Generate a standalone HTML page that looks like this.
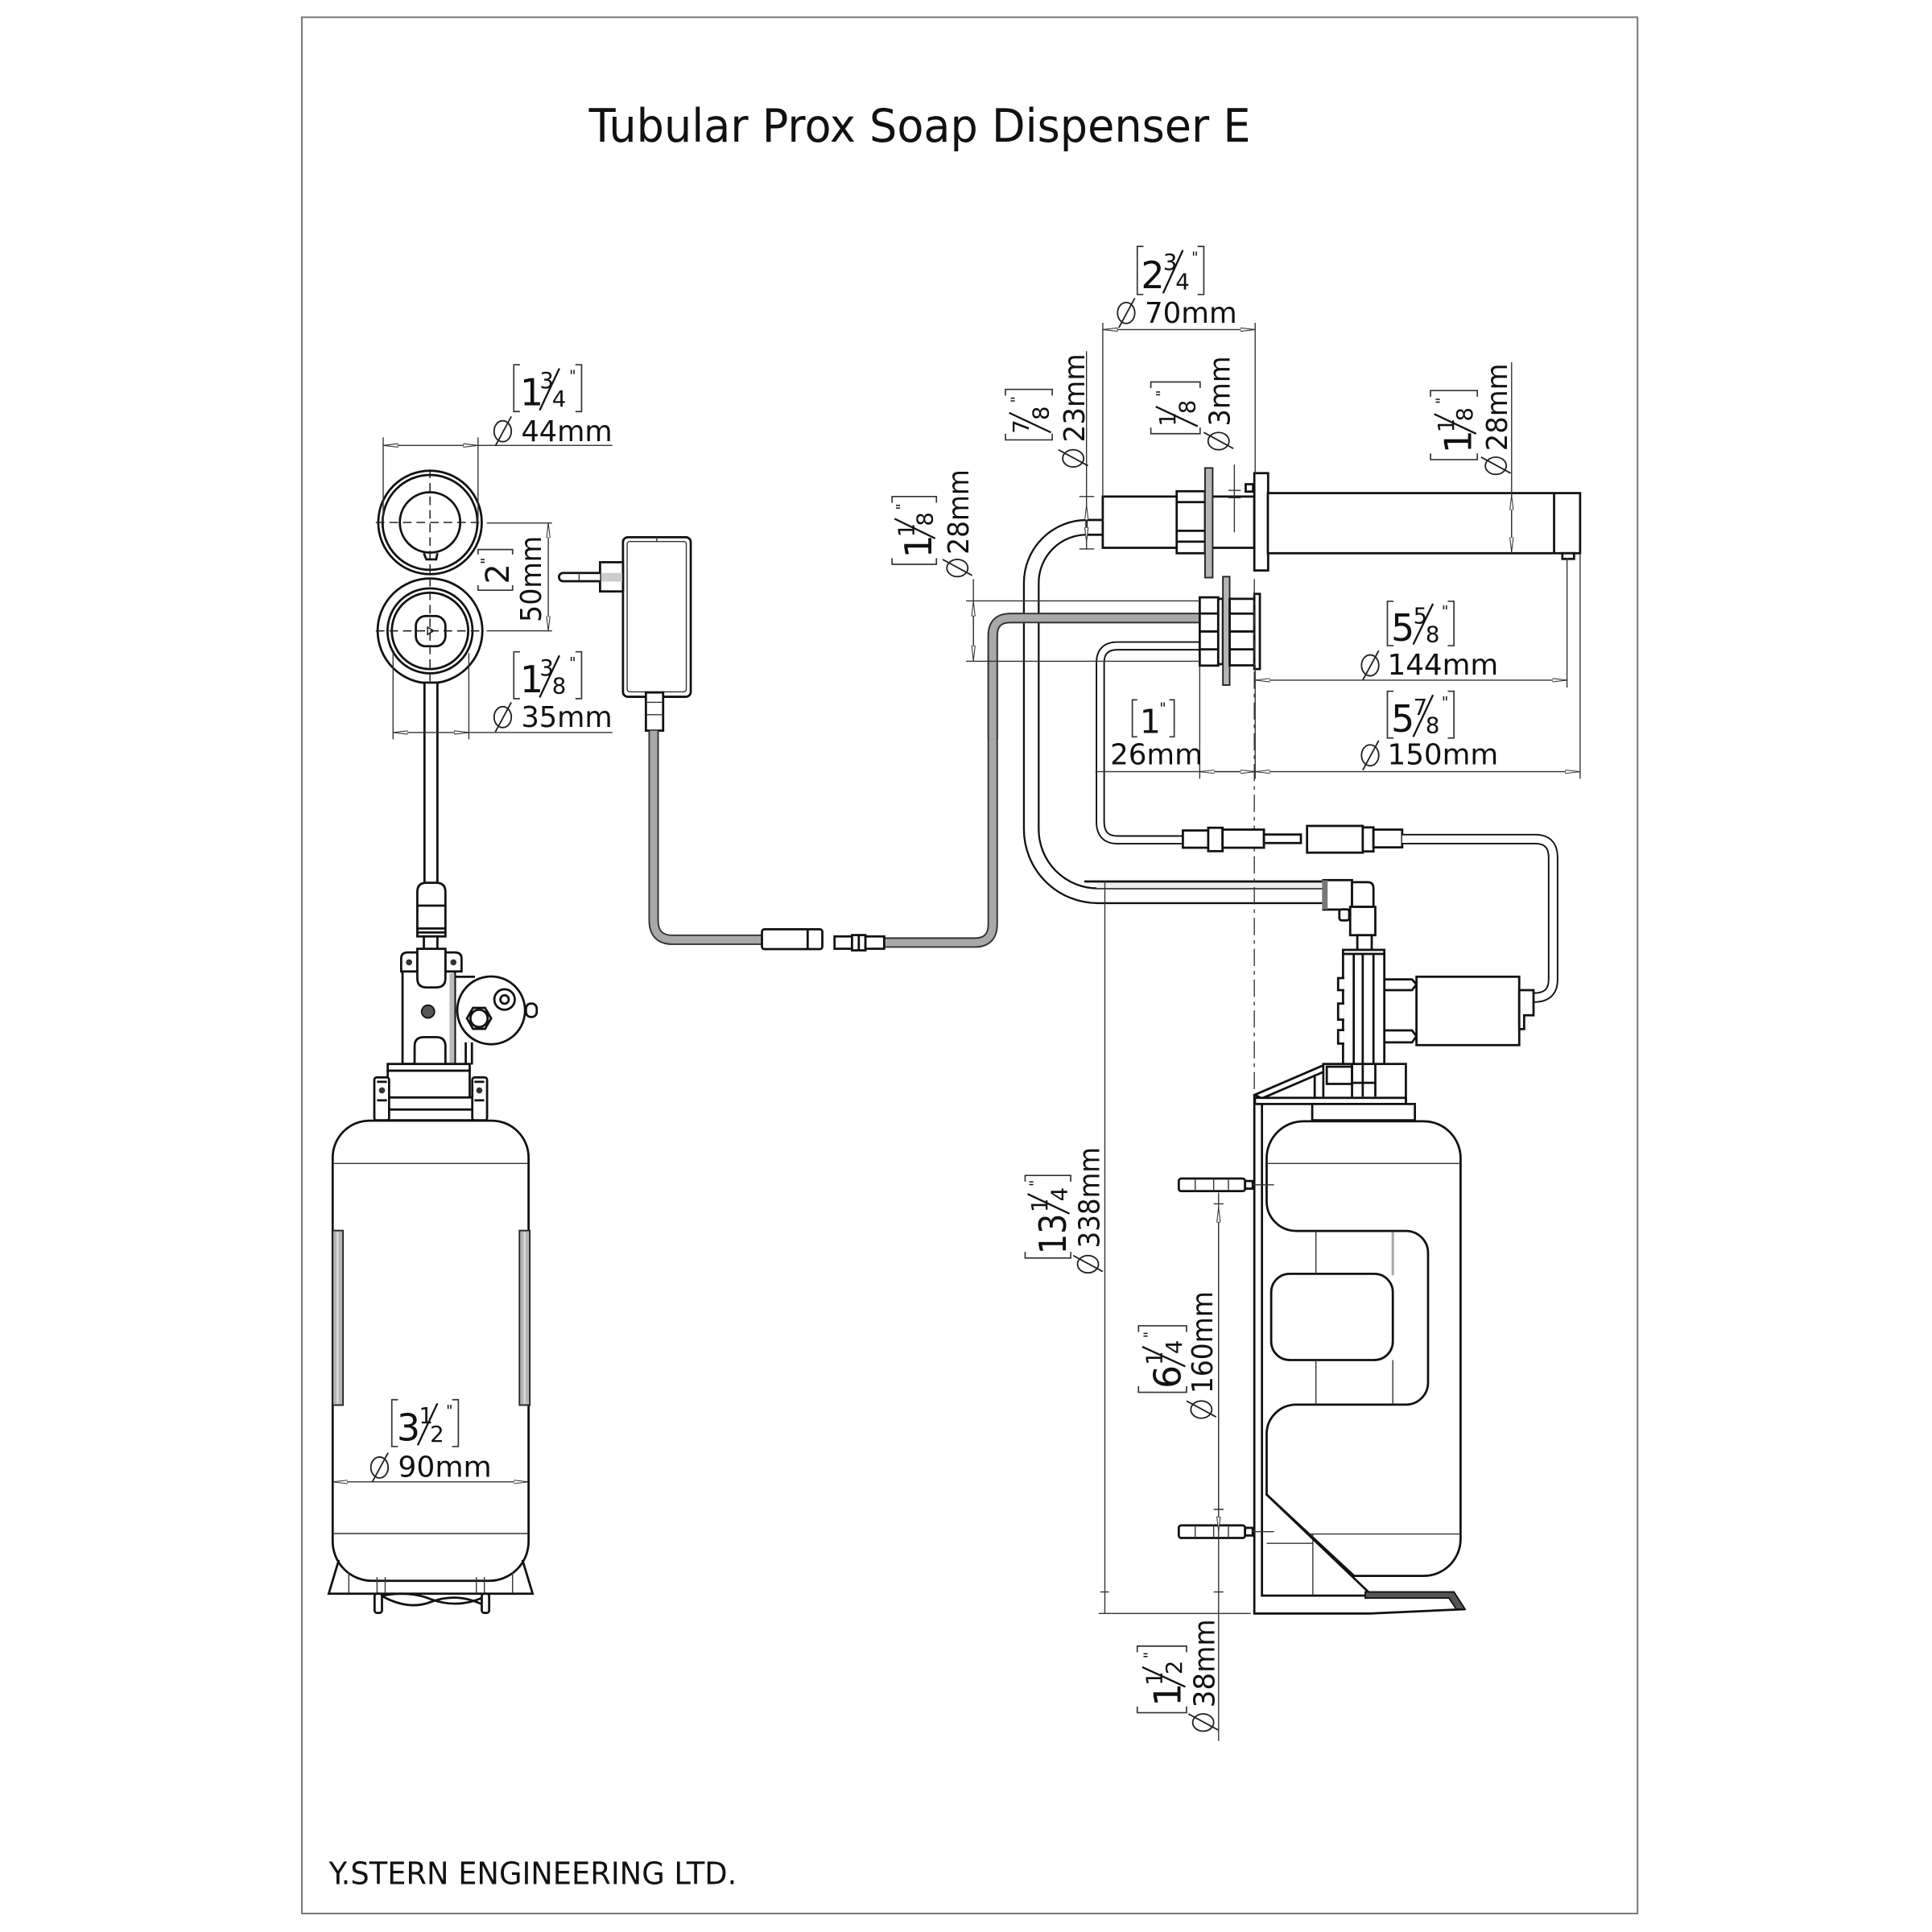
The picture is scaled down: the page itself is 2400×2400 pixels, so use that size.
<!DOCTYPE html>
<html><head><meta charset="utf-8"><style>
html,body{margin:0;padding:0;background:#fff;}
svg{display:block;}
text{font-family:"DejaVu Sans","Liberation Sans",sans-serif;fill:#111;}
.o{fill:none;stroke:#111;stroke-width:1.8}
.w{fill:#fff;stroke:#111;stroke-width:1.8}
.t{fill:none;stroke:#333;stroke-width:0.9}
.b{fill:none;stroke:#333;stroke-width:1.1}
.g{fill:#b5b5b5;stroke:#222;stroke-width:1.2}
.cl{fill:none;stroke:#333;stroke-width:0.9;stroke-dasharray:14 4 3 4}
.dsh{fill:none;stroke:#222;stroke-width:1;stroke-dasharray:7 4}
.dia{fill:none;stroke:#222;stroke-width:1.2}
.wn{font-size:30px}
.fr{font-size:18px}
.mk{font-size:12px}
.dt{font-size:23px}
</style></head><body>
<svg width="2400" height="2400" viewBox="0 0 1568 1568" xmlns="http://www.w3.org/2000/svg">
<defs>
<marker id="ar" viewBox="0 0 12 4" refX="12" refY="2" markerWidth="12" markerHeight="4" orient="auto-start-reverse" markerUnits="userSpaceOnUse"><path d="M12 2 L0 0.6 L0 3.4 z" fill="#fff" stroke="#333" stroke-width="0.7"/></marker>
</defs>
<rect width="1568" height="1568" fill="#fff"/>
<rect x="245" y="14" width="1084" height="1539" fill="none" stroke="#777" stroke-width="1.3"/>
<text x="478" y="115" font-size="37" textLength="537" lengthAdjust="spacingAndGlyphs">Tubular Prox Soap Dispenser E</text>
<text x="267" y="1529" font-size="25" textLength="331" lengthAdjust="spacingAndGlyphs">Y.STERN ENGINEERING LTD.</text>

<!-- ============ LEFT TOP: circles ============ -->
<g>
<circle class="o" cx="349" cy="424" r="42"/>
<circle class="o" cx="349" cy="424" r="38.5" stroke-width="1.4"/>
<circle class="o" cx="349" cy="424" r="24.5" stroke-width="2.6"/>
<path class="o" d="M344 449 L346 454 H354 L355 449" stroke-width="1.3"/>
<line class="dsh" x1="305" y1="424" x2="393" y2="424"/>
<line class="dsh" x1="349" y1="381" x2="349" y2="467"/>

<circle class="o" cx="349" cy="512" r="42.5"/>
<circle class="o" cx="349" cy="512" r="34.5" stroke-width="1.4"/>
<circle class="o" cx="349" cy="512" r="31" stroke-width="1.4"/>
<rect class="o" x="337.5" y="500" width="24" height="24.5" rx="8" stroke-width="2"/>
<path d="M347 509 L352 512 L347 515 z" fill="none" stroke="#222" stroke-width="1"/>
<line class="dsh" x1="305" y1="512" x2="393" y2="512"/>
<line class="dsh" x1="349" y1="469" x2="349" y2="555"/>
</g>
<!-- tube down -->
<rect class="w" x="344.5" y="554" width="10.5" height="163" stroke-width="1.5"/>

<!-- 44mm dim -->
<line class="t" x1="311" y1="355" x2="311" y2="424"/>
<line class="t" x1="388" y1="355" x2="388" y2="424"/>
<line class="t" x1="311" y1="361.5" x2="388" y2="361.5" marker-start="url(#ar)" marker-end="url(#ar)"/>
<line class="t" x1="388" y1="361.5" x2="497" y2="361.5"/>
<g transform="translate(417,296)">
<path class="b" d="M5 0H0V38H5 M50 0H55V38H50"/>
<text class="wn" x="5" y="33">1</text><text class="fr" x="21" y="19">3</text>
<line x1="21" y1="37" x2="37" y2="3" stroke="#111" stroke-width="1.5"/>
<text class="fr" x="31" y="34">4</text><text class="mk" x="45" y="13">"</text>
</g>
<g class="dia" transform="translate(408,350)"><ellipse rx="7" ry="8.5"/><line x1="-6" y1="12" x2="7" y2="-12"/></g>
<text class="dt" x="423" y="358" textLength="74" lengthAdjust="spacingAndGlyphs">44mm</text>

<!-- 50mm dim -->
<line class="t" x1="395" y1="424.5" x2="448" y2="424.5"/>
<line class="t" x1="395" y1="512" x2="448" y2="512"/>
<line class="t" x1="445" y1="424.5" x2="445" y2="512" marker-start="url(#ar)" marker-end="url(#ar)"/>
<g transform="translate(439,505) rotate(-90)"><text class="dt" x="0" y="0" font-size="22" textLength="70" lengthAdjust="spacingAndGlyphs">50mm</text></g>
<g transform="translate(388,479) rotate(-90)">
<path class="b" d="M4 0H0V28H4 M29 0H33V28H29"/>
<text x="5" y="25" font-size="26">2</text><text class="mk" x="21" y="11">"</text>
</g>

<!-- 35mm dim -->
<line class="t" x1="319" y1="530" x2="319" y2="600"/>
<line class="t" x1="380.5" y1="530" x2="380.5" y2="600"/>
<line class="t" x1="319" y1="594.5" x2="380.5" y2="594.5" marker-start="url(#ar)" marker-end="url(#ar)"/>
<line class="t" x1="380.5" y1="594.5" x2="497" y2="594.5"/>
<g transform="translate(417,529)">
<path class="b" d="M5 0H0V38H5 M50 0H55V38H50"/>
<text class="wn" x="5" y="33">1</text><text class="fr" x="21" y="19">3</text>
<line x1="21" y1="37" x2="37" y2="3" stroke="#111" stroke-width="1.5"/>
<text class="fr" x="31" y="34">8</text><text class="mk" x="45" y="13">"</text>
</g>
<g class="dia" transform="translate(408,582)"><ellipse rx="7" ry="8.5"/><line x1="-6" y1="12" x2="7" y2="-12"/></g>
<text class="dt" x="423" y="590" textLength="74" lengthAdjust="spacingAndGlyphs">35mm</text>

<!-- ============ ADAPTER ============ -->
<rect class="w" x="505.6" y="436" width="55" height="129.5" rx="4"/>
<rect class="t" x="509" y="439.5" width="48" height="122" rx="2"/>
<line class="t" x1="533" y1="436" x2="533" y2="440"/>
<rect class="w" x="487" y="456.3" width="18.6" height="23.7" stroke-width="1.5"/>
<rect x="488" y="465" width="17" height="7" fill="#ccc"/>
<path class="w" d="M487 465 H457 A3.3 3.3 0 0 0 457 471.7 H487" stroke-width="1.3"/>
<line class="t" x1="470" y1="465" x2="470" y2="471.7"/>
<rect class="w" x="524.2" y="562" width="14" height="31" stroke-width="1.4"/>
<line class="t" x1="524.2" y1="570" x2="538.2" y2="570"/>
<line class="t" x1="524.2" y1="580" x2="538.2" y2="580"/>
<!-- power cable -->
<path d="M530.5 593 V747 Q530.5 762.7 546 762.7 H619" fill="none" stroke="#333" stroke-width="8.5"/>
<path d="M530.5 593 V747 Q530.5 762.7 546 762.7 H619" fill="none" stroke="#a8a8a8" stroke-width="6"/>
<path d="M717 765 H791 Q805.7 765 805.7 750 V516 Q805.7 501.6 820 501.6 H974" fill="none" stroke="#333" stroke-width="8.5"/>
<path d="M717 765 H791 Q805.7 765 805.7 750 V516 Q805.7 501.6 820 501.6 H974" fill="none" stroke="#a8a8a8" stroke-width="6"/>
<!-- connectors middle -->
<rect class="w" x="618.4" y="754.2" width="49" height="16.1" rx="2" stroke-width="2.2"/>
<line class="o" x1="655.5" y1="754.2" x2="655.5" y2="770.3" stroke-width="1.4"/>
<rect class="w" x="677.3" y="760" width="14.2" height="10" stroke-width="1.6"/>
<rect class="w" x="691.5" y="758.9" width="10.9" height="12.4" stroke-width="1.6"/>
<line class="o" x1="697" y1="758.9" x2="697" y2="771.3" stroke-width="1.2"/>
<rect class="w" x="702.4" y="760" width="15.2" height="10" stroke-width="1.6"/>

<!-- ============ LEFT BOTTLE ASSEMBLY ============ -->
<path class="w" d="M338.7 760 V724 Q338.7 716.5 346 716.5 H354 Q361.5 716.5 361.5 724 V760 Z"/>
<line class="o" x1="338.7" y1="735" x2="361.5" y2="735" stroke-width="1.3"/>
<line class="o" x1="338.7" y1="753.5" x2="361.5" y2="753.5" stroke-width="1.3"/>
<line class="o" x1="338.7" y1="756.8" x2="361.5" y2="756.8" stroke-width="1"/>
<rect class="w" x="344" y="760" width="11" height="11" stroke-width="1.4"/>
<rect class="w" x="326.7" y="788.4" width="42.5" height="75.1"/>
<rect x="364.8" y="790" width="4" height="73" fill="#bbb"/>
<path class="w" d="M325.6 788.4 V778 Q325.6 773 331 773 H338.7 V788.4 Z" stroke-width="1.5"/>
<path class="w" d="M361.5 773 H369 Q374.6 773 374.6 778 V788.4 H361.5 Z" stroke-width="1.5"/>
<circle cx="332" cy="781" r="2.5" fill="#333"/><circle cx="368" cy="781" r="2.5" fill="#333"/>
<path class="w" d="M338.7 770 V794 Q338.7 801.4 346 801.4 H354 Q361.5 801.4 361.5 794 V770 Z"/>
<path class="w" d="M336.5 863.5 V849 Q336.5 841.7 344 841.7 H354 Q361.5 841.7 361.5 849 V863.5"/>
<circle cx="347.4" cy="821" r="5.2" fill="#555" stroke="#111" stroke-width="1.2"/>
<path class="o" d="M369 792.7 H385.5 M378 846 V864" stroke-width="1.4"/>
<path class="o" d="M383 846 V864" stroke-width="1.4"/>
<rect class="w" x="426.9" y="814.5" width="8.7" height="10.9" rx="4" stroke-width="1.4"/>
<circle class="w" cx="398.6" cy="820" r="27.5" stroke-width="2.2"/>
<polygon class="o" points="398.6,826.5 393.7,835 383.9,835 379,826.5 383.9,818 393.7,818" stroke-width="1.6"/>
<circle class="o" cx="388.8" cy="826.5" r="7" stroke-width="1"/>
<circle class="o" cx="409.5" cy="811.2" r="8.3" stroke-width="1.8"/>
<circle class="o" cx="409.5" cy="811.2" r="3.4" stroke-width="1.6"/>
<rect class="w" x="314.7" y="863.5" width="66.5" height="5.5" stroke-width="1.5"/>
<rect class="w" x="314.7" y="869" width="66.5" height="21.7" stroke-width="1.5"/>
<rect class="w" x="314.7" y="890.7" width="70.8" height="9.8" stroke-width="1.5"/>
<rect class="w" x="307.1" y="900.5" width="86" height="8.7" stroke-width="1.5"/>
<rect class="w" x="303.8" y="874.4" width="12" height="34.8" rx="2" stroke-width="1.5"/>
<rect class="w" x="383.3" y="874.4" width="12" height="34.8" rx="2" stroke-width="1.5"/>
<path class="o" d="M306 878 H314 M306 893 H314 M385 878 H393 M385 893 H393" stroke-width="1"/>
<circle cx="310" cy="885" r="2.5" fill="#333"/><circle cx="389" cy="885" r="2.5" fill="#333"/>
<path class="w" d="M300 909.5 H399 A30 30 0 0 1 429 939.5 V1251 A32 32 0 0 1 397 1283 H302 A32 32 0 0 1 270 1251 V939.5 A30 30 0 0 1 300 909.5 Z"/>
<line class="t" x1="270" y1="944.3" x2="429" y2="944.3"/>
<line class="t" x1="270" y1="1244.6" x2="429" y2="1244.6"/>
<rect class="g" x="270" y="998.7" width="8.4" height="141.7"/>
<rect class="g" x="421.6" y="998.7" width="8.4" height="141.7"/>
<path d="M274 1000 V1139 M425.8 1000 V1139" stroke="#ddd" stroke-width="1.5"/>
<path class="o" d="M275 1266 L266.8 1293.4 H432.3 L424 1266"/>
<path class="t" d="M283.1 1276 V1293 M306 1280 V1293 M312.6 1280 V1293 M386.6 1280 V1293 M393.1 1280 V1293 M416 1276 V1293"/>
<path class="o" d="M306 1293 Q330 1308 350 1300 Q372 1292 393 1303" stroke-width="1.3"/>
<path class="o" d="M306 1296 Q330 1290 350 1298 Q372 1306 393 1296" stroke-width="1.1"/>
<rect class="w" x="304" y="1293.4" width="6" height="15.6" rx="2" stroke-width="1.3"/>
<rect class="w" x="391" y="1293.4" width="6" height="15.6" rx="2" stroke-width="1.3"/>
<line class="t" x1="270" y1="1202.7" x2="429" y2="1202.7" marker-start="url(#ar)" marker-end="url(#ar)"/>
<g transform="translate(318,1136)">
<path class="b" d="M5 0H0V38H5 M49 0H54V38H49"/>
<text class="wn" x="4" y="33">3</text><text class="fr" x="22" y="19">1</text>
<line x1="21" y1="37" x2="37" y2="3" stroke="#111" stroke-width="1.5"/>
<text class="fr" x="31" y="34">2</text><text class="mk" x="44" y="13">"</text>
</g>
<g class="dia" transform="translate(308,1191)"><ellipse rx="7" ry="8.5"/><line x1="-6" y1="12" x2="7" y2="-12"/></g>
<text class="dt" x="323" y="1198.5" textLength="76" lengthAdjust="spacingAndGlyphs">90mm</text>

<!-- ============ RIGHT: SPOUT ============ -->
<path d="M882 428 A45 45 0 0 0 837 473 V673 A54 54 0 0 0 891 727 H1074" fill="none" stroke="#111" stroke-width="13.5"/>
<path d="M882 428 A45 45 0 0 0 837 473 V673 A54 54 0 0 0 891 727 H1074" fill="none" stroke="#fff" stroke-width="10.5"/>
<rect x="890" y="715.4" width="184" height="5.4" fill="#eee"/>
<line class="o" x1="880" y1="715.4" x2="1074" y2="715.4" stroke-width="1.3"/>
<path d="M974 524.2 H907 Q893 524.2 893 538 V667 Q893 681.6 907 681.6 H961" fill="none" stroke="#111" stroke-width="7.5"/>
<path d="M974 524.2 H907 Q893 524.2 893 538 V667 Q893 681.6 907 681.6 H961" fill="none" stroke="#fff" stroke-width="5"/>
<path d="M805.7 600 V516 Q805.7 501.6 820 501.6 H974" fill="none" stroke="#333" stroke-width="8.5"/>
<path d="M805.7 600 V516 Q805.7 501.6 820 501.6 H974" fill="none" stroke="#a8a8a8" stroke-width="6"/>

<rect class="w" x="881.8" y="422" width="13.2" height="12" stroke-width="1.4"/>
<rect class="w" x="895" y="403" width="123" height="41.6"/>
<rect class="w" x="955" y="398.7" width="23" height="50.3"/>
<path class="o" d="M955 407.5 H978 M955 430.8 H978 M955 439.6 H978" stroke-width="1.3"/>
<rect class="g" x="978" y="379.8" width="6.2" height="89"/>
<rect class="w" x="1018" y="384" width="11.2" height="79"/>
<rect class="w" x="1029" y="400.2" width="253.4" height="48.8"/>
<line class="o" x1="1261.3" y1="400.2" x2="1261.3" y2="449" stroke-width="1.4"/>
<rect class="w" x="1268" y="449" width="9.5" height="4.6" stroke-width="1.2"/>
<rect class="w" x="1011" y="393" width="6" height="6" stroke-width="1"/>

<rect class="w" x="973.7" y="484.8" width="15" height="55.4" stroke-width="1.6"/>
<path class="o" d="M973.7 497.9 H988.7 M973.7 512.5 H988.7 M973.7 527 H988.7" stroke-width="1.2"/>
<rect class="w" x="988.7" y="486" width="3.8" height="53" stroke-width="1.2"/>
<rect class="g" x="992.5" y="468" width="5.5" height="88"/>
<rect class="w" x="998" y="486" width="20" height="54" stroke-width="1.6"/>
<path class="o" d="M998 498 H1018 M998 512.5 H1018 M998 527 H1018" stroke-width="1.2"/>
<rect class="w" x="1018" y="482" width="4.5" height="61" stroke-width="1.4"/>

<line class="cl" x1="1018" y1="470" x2="1018" y2="888"/>

<!-- dims top right -->
<line class="t" x1="895" y1="262" x2="895" y2="403"/>
<line class="t" x1="1018.7" y1="262" x2="1018.7" y2="384"/>
<line class="t" x1="895" y1="267.5" x2="1018.7" y2="267.5" marker-start="url(#ar)" marker-end="url(#ar)"/>
<g transform="translate(923,200)">
<path class="b" d="M5 0H0V39H5 M49 0H54V39H49"/>
<text class="wn" x="3" y="34">2</text><text class="fr" x="21" y="19">3</text>
<line x1="21" y1="38" x2="37" y2="3" stroke="#111" stroke-width="1.5"/>
<text class="fr" x="31" y="35">4</text><text class="mk" x="44" y="13">"</text>
</g>
<g class="dia" transform="translate(914,254)"><ellipse rx="7" ry="8.5"/><line x1="-6" y1="12" x2="7" y2="-12"/></g>
<text class="dt" x="929" y="262" textLength="75" lengthAdjust="spacingAndGlyphs">70mm</text>

<!-- 23mm -->
<line class="t" x1="881.8" y1="285" x2="881.8" y2="446"/>
<path class="t" d="M876 403 H888 M876 445.5 H888"/>
<line class="t" x1="881.8" y1="410" x2="881.8" y2="440" marker-start="url(#ar)" marker-end="url(#ar)"/>
<g transform="translate(816,357) rotate(-90)">
<path class="b" d="M5 0H0V38H5 M36 0H41V38H36"/>
<text class="fr" x="5" y="19">7</text>
<line x1="6" y1="37" x2="22" y2="3" stroke="#111" stroke-width="1.5"/>
<text class="fr" x="16" y="35">8</text><text class="mk" x="30" y="13">"</text>
</g>
<g transform="translate(880,381) rotate(-90)">
<g class="dia" transform="translate(9,-9)"><ellipse rx="7" ry="8.5"/><line x1="-6" y1="12" x2="7" y2="-12"/></g>
<text class="dt" x="22" y="0" textLength="72" lengthAdjust="spacingAndGlyphs">23mm</text>
</g>

<!-- 3mm -->
<line class="t" x1="1001.8" y1="377" x2="1001.8" y2="432"/>
<path class="t" d="M997 398 H1007 M997 404 H1007"/>
<g transform="translate(934,352) rotate(-90)">
<path class="b" d="M5 0H0V40H5 M37 0H42V40H37"/>
<text class="fr" x="6" y="20">1</text>
<line x1="6" y1="38" x2="22" y2="4" stroke="#111" stroke-width="1.5"/>
<text class="fr" x="16" y="36">8</text><text class="mk" x="30" y="13">"</text>
</g>
<g transform="translate(998,367) rotate(-90)">
<g class="dia" transform="translate(9,-9)"><ellipse rx="7" ry="8.5"/><line x1="-6" y1="12" x2="7" y2="-12"/></g>
<text class="dt" x="21" y="0" textLength="57" lengthAdjust="spacingAndGlyphs">3mm</text>
</g>

<!-- 28mm right -->
<line class="t" x1="1226.8" y1="294" x2="1226.8" y2="449"/>
<line class="t" x1="1226.8" y1="402" x2="1226.8" y2="448" marker-start="url(#ar)" marker-end="url(#ar)"/>
<g transform="translate(1161,373) rotate(-90)">
<path class="b" d="M5 0H0V38H5 M51 0H56V38H51"/>
<text class="wn" x="5" y="33">1</text><text class="fr" x="22" y="19">1</text>
<line x1="21" y1="37" x2="37" y2="3" stroke="#111" stroke-width="1.5"/>
<text class="fr" x="31" y="34">8</text><text class="mk" x="45" y="13">"</text>
</g>
<g transform="translate(1223,387) rotate(-90)">
<g class="dia" transform="translate(9,-9)"><ellipse rx="7" ry="8.5"/><line x1="-6" y1="12" x2="7" y2="-12"/></g>
<text class="dt" x="21" y="0" textLength="71" lengthAdjust="spacingAndGlyphs">28mm</text>
</g>

<!-- 28mm left -->
<line class="t" x1="784" y1="487.7" x2="973.7" y2="487.7"/>
<line class="t" x1="784" y1="536.7" x2="973.7" y2="536.7"/>
<line class="t" x1="790" y1="470" x2="790" y2="537"/>
<line class="t" x1="790" y1="488" x2="790" y2="536" marker-start="url(#ar)" marker-end="url(#ar)"/>
<g transform="translate(724,458) rotate(-90)">
<path class="b" d="M5 0H0V36H5 M50 0H55V36H50"/>
<text class="wn" x="5" y="32">1</text><text class="fr" x="22" y="18">1</text>
<line x1="21" y1="35" x2="37" y2="2" stroke="#111" stroke-width="1.5"/>
<text class="fr" x="31" y="33">8</text><text class="mk" x="44" y="12">"</text>
</g>
<g transform="translate(786,470) rotate(-90)">
<g class="dia" transform="translate(9,-9)"><ellipse rx="7" ry="8.5"/><line x1="-6" y1="12" x2="7" y2="-12"/></g>
<text class="dt" x="20" y="0" textLength="69" lengthAdjust="spacingAndGlyphs">28mm</text>
</g>

<!-- 144mm -->
<line class="t" x1="1271.8" y1="453" x2="1271.8" y2="558"/>
<line class="t" x1="1018.7" y1="540" x2="1018.7" y2="632"/>
<line class="t" x1="1018.7" y1="552" x2="1271.8" y2="552" marker-start="url(#ar)" marker-end="url(#ar)"/>
<g transform="translate(1126,488)">
<path class="b" d="M5 0H0V36H5 M49 0H54V36H49"/>
<text class="wn" x="3" y="32">5</text><text class="fr" x="21" y="18">5</text>
<line x1="21" y1="35" x2="37" y2="2" stroke="#111" stroke-width="1.5"/>
<text class="fr" x="31" y="33">8</text><text class="mk" x="44" y="12">"</text>
</g>
<g class="dia" transform="translate(1112,540)"><ellipse rx="7" ry="8.5"/><line x1="-6" y1="12" x2="7" y2="-12"/></g>
<text class="dt" x="1126" y="547.5" textLength="90" lengthAdjust="spacingAndGlyphs">144mm</text>

<!-- 150mm -->
<line class="t" x1="1282.4" y1="449" x2="1282.4" y2="632"/>
<line class="t" x1="1018.7" y1="626.3" x2="1282.4" y2="626.3" marker-start="url(#ar)" marker-end="url(#ar)"/>
<g transform="translate(1126,561)">
<path class="b" d="M5 0H0V38H5 M49 0H54V38H49"/>
<text class="wn" x="3" y="33">5</text><text class="fr" x="21" y="19">7</text>
<line x1="21" y1="37" x2="37" y2="3" stroke="#111" stroke-width="1.5"/>
<text class="fr" x="31" y="34">8</text><text class="mk" x="44" y="13">"</text>
</g>
<g class="dia" transform="translate(1112,613)"><ellipse rx="7" ry="8.5"/><line x1="-6" y1="12" x2="7" y2="-12"/></g>
<text class="dt" x="1126" y="620.5" textLength="90" lengthAdjust="spacingAndGlyphs">150mm</text>

<!-- 26mm -->
<line class="t" x1="973.7" y1="540" x2="973.7" y2="632"/>
<line class="t" x1="889" y1="626.3" x2="1018.7" y2="626.3"/>
<line class="t" x1="973.7" y1="626.3" x2="1018.7" y2="626.3" marker-start="url(#ar)" marker-end="url(#ar)"/>
<g transform="translate(919,568)">
<path class="b" d="M4 0H0V30H4 M30 0H34V30H30"/>
<text x="6" y="27" font-size="27">1</text><text class="mk" x="22" y="11">"</text>
</g>
<text class="dt" x="901" y="620.5" textLength="75" lengthAdjust="spacingAndGlyphs">26mm</text>

<!-- ============ RIGHT LOWER ============ -->
<rect class="w" x="960" y="674" width="20.6" height="14" stroke-width="1.6"/>
<rect class="w" x="980.6" y="671.8" width="11.6" height="19" stroke-width="1.6"/>
<rect class="w" x="992.2" y="673.3" width="33.6" height="14.7" stroke-width="1.6"/>
<rect class="w" x="1025.8" y="677.3" width="30" height="6.9" stroke-width="1.4"/>
<rect class="w" x="1060.8" y="670.3" width="45.2" height="21.7" stroke-width="1.8"/>
<rect class="w" x="1106" y="671.5" width="8.7" height="19.5" stroke-width="1.4"/>
<rect class="w" x="1114.7" y="673.3" width="23.3" height="14.4" stroke-width="1.6"/>
<path d="M1138 681 H1246 Q1260.5 681 1260.5 696 V795 Q1260.5 809.6 1245 809.6" fill="none" stroke="#111" stroke-width="8.5"/>
<path d="M1138 681 H1246 Q1260.5 681 1260.5 696 V795 Q1260.5 809.6 1245 809.6" fill="none" stroke="#fff" stroke-width="6"/>
<path class="w" d="M1123.5 794.9 H1146 L1149.6 799 L1146 803.6 H1123.5 Z" stroke-width="1.4"/>
<path class="w" d="M1123.5 836.3 H1146 L1149.6 841 L1146 846 H1123.5 Z" stroke-width="1.4"/>
<rect class="w" x="1149.6" y="792.7" width="83.4" height="55.5"/>
<line class="o" x1="1123.5" y1="792.7" x2="1123.5" y2="848.2"/>
<path class="w" d="M1233 803.6 H1244.6 V824 H1237 V835.2 H1233 Z" stroke-width="1.5"/>
<rect class="w" x="1074" y="714.3" width="23.3" height="23.9" stroke-width="1.8"/>
<rect x="1073" y="714.5" width="4.5" height="23.5" fill="#777"/>
<path class="w" d="M1097.3 716 H1110 Q1114.7 716 1114.7 721 V736 H1097.3 Z" stroke-width="1.5"/>
<rect class="w" x="1095.8" y="736" width="20.4" height="23" stroke-width="1.6"/>
<rect class="w" x="1087" y="738" width="8" height="9" rx="2" stroke-width="1.2"/>
<rect class="w" x="1101.6" y="759" width="11.7" height="12" stroke-width="1.4"/>
<rect class="w" x="1090" y="770.9" width="33.5" height="93.7"/>
<path class="o" d="M1098.7 774 V864 M1106 774 V864 M1114.7 774 V864 M1090 774.2 H1123.5" stroke-width="1.3"/>
<path class="w" d="M1091 793.8 H1086 V803.6 H1091 M1091 814.5 H1086 V827.5 H1091 M1091 836 H1086 V847 H1091" stroke-width="1.3"/>
<path d="M1018.5 888.5 L1074 864.6 L1074 870 L1024 891.5 Z" fill="#fff" stroke="#111" stroke-width="1.8"/>
<rect class="w" x="1074" y="863.5" width="67" height="29.5"/>
<rect class="w" x="1076.8" y="865.7" width="20.5" height="14" stroke-width="1.4"/>
<path class="o" d="M1067 872 V891 M1097.3 863.5 V893 M1106 863.5 V890 M1116.2 863.5 V890 M1097.3 878.8 H1116.2" stroke-width="1.3"/>
<rect class="w" x="1018.5" y="891" width="122.5" height="5" stroke-width="1.5"/>
<rect class="w" x="1065" y="896" width="83.3" height="13.2" stroke-width="1.6"/>

<path class="o" d="M1018 889 V1309.5 H1111.7 L1189 1306" stroke-width="2.2"/>
<path class="o" d="M1024.2 896 V1295 H1110" stroke-width="1.8"/>
<path d="M1108 1292 H1180 L1189 1306 L1182 1306 L1176 1297 H1108 Z" fill="#555" stroke="#111" stroke-width="1.2"/>

<path class="w" d="M1058 910 H1155.4 A30 30 0 0 1 1185.4 940 V1249 A30 30 0 0 1 1155.4 1279 H1099 L1028 1213 V1164 A24 24 0 0 1 1052 1140 H1141 A18 18 0 0 0 1159 1122 V1017 A18 18 0 0 0 1141 999 H1052 A24 24 0 0 1 1028 975 V940 A30 30 0 0 1 1058 910 Z" stroke-width="2"/>
<line class="t" x1="1028" y1="944.3" x2="1185.4" y2="944.3"/>
<line class="t" x1="1060" y1="1245" x2="1185.4" y2="1245"/>
<line class="t" x1="1065.5" y1="1245" x2="1065.5" y2="1295"/>
<line class="t" x1="1028" y1="1252.6" x2="1065.5" y2="1252.6"/>
<rect class="o" x="1031.7" y="1033.8" width="98.7" height="70" rx="15" stroke-width="1.8"/>
<path class="t" d="M1068 999 V1033.8 M1068 1103.8 V1140 M1130.4 999 V1033.8 M1130.4 1103.8 V1140"/>
<path d="M1130.4 1000 V1035" stroke="#aaa" stroke-width="2"/>
<path class="o" d="M1028 1213 L1110.5 1292" stroke-width="1.8"/>

<g>
<rect class="w" x="956.7" y="956.5" width="53.8" height="10.2" rx="2" stroke-width="1.5"/>
<path class="t" d="M970 956.5 V966.7 M985 956.5 V966.7 M997 956.5 V966.7"/>
<rect class="w" x="1010.5" y="958.5" width="6.2" height="6.2" stroke-width="1.2"/>
<line class="t" x1="1016" y1="961.6" x2="1034" y2="961.6"/>
<rect class="w" x="956.7" y="1238" width="53.8" height="10.2" rx="2" stroke-width="1.5"/>
<path class="t" d="M970 1238 V1248.2 M985 1238 V1248.2 M997 1238 V1248.2"/>
<rect class="w" x="1010.5" y="1240" width="6.2" height="6.2" stroke-width="1.2"/>
<line class="t" x1="1016" y1="1243.1" x2="1034" y2="1243.1"/>
</g>

<line class="t" x1="896.7" y1="715" x2="896.7" y2="1309.5"/>
<path class="t" d="M893 1292 H900"/>
<line class="t" x1="891.7" y1="1309.5" x2="1015" y2="1309.5"/>
<line class="t" x1="989" y1="968" x2="989" y2="1413"/>
<path class="t" d="M985 977 H993 M985 1225 H993 M985 1292 H993"/>
<line class="t" x1="989" y1="980" x2="989" y2="1243" marker-start="url(#ar)" marker-end="url(#ar)"/>
<g transform="translate(832,1021) rotate(-90)">
<path class="b" d="M5 0H0V37H5 M62 0H67V37H62"/>
<text class="wn" x="3" y="33" textLength="33" lengthAdjust="spacingAndGlyphs">13</text><text class="fr" x="37" y="18">1</text>
<line x1="36" y1="36" x2="52" y2="2" stroke="#111" stroke-width="1.5"/>
<text class="fr" x="46" y="34">4</text><text class="mk" x="58" y="12">"</text>
</g>
<g transform="translate(892,1035) rotate(-90)">
<g class="dia" transform="translate(9,-9)"><ellipse rx="7" ry="8.5"/><line x1="-6" y1="12" x2="7" y2="-12"/></g>
<text class="dt" x="22" y="0" textLength="82" lengthAdjust="spacingAndGlyphs">338mm</text>
</g>
<g transform="translate(924,1130) rotate(-90)">
<path class="b" d="M5 0H0V39H5 M49 0H54V39H49"/>
<text class="wn" x="3" y="34">6</text><text class="fr" x="22" y="19">1</text>
<line x1="21" y1="38" x2="37" y2="3" stroke="#111" stroke-width="1.5"/>
<text class="fr" x="31" y="35">4</text><text class="mk" x="44" y="13">"</text>
</g>
<g transform="translate(984,1153) rotate(-90)">
<g class="dia" transform="translate(9,-9)"><ellipse rx="7" ry="8.5"/><line x1="-6" y1="12" x2="7" y2="-12"/></g>
<text class="dt" x="22" y="0" textLength="83" lengthAdjust="spacingAndGlyphs">160mm</text>
</g>
<g transform="translate(923,1390) rotate(-90)">
<path class="b" d="M5 0H0V40H5 M49 0H54V40H49"/>
<text class="wn" x="5" y="35">1</text><text class="fr" x="22" y="20">1</text>
<line x1="21" y1="39" x2="37" y2="4" stroke="#111" stroke-width="1.5"/>
<text class="fr" x="31" y="36">2</text><text class="mk" x="44" y="14">"</text>
</g>
<g transform="translate(985.5,1407) rotate(-90)">
<g class="dia" transform="translate(9,-9)"><ellipse rx="7" ry="8.5"/><line x1="-6" y1="12" x2="7" y2="-12"/></g>
<text class="dt" x="21" y="0" textLength="72" lengthAdjust="spacingAndGlyphs">38mm</text>
</g>
</svg>
</body></html>
